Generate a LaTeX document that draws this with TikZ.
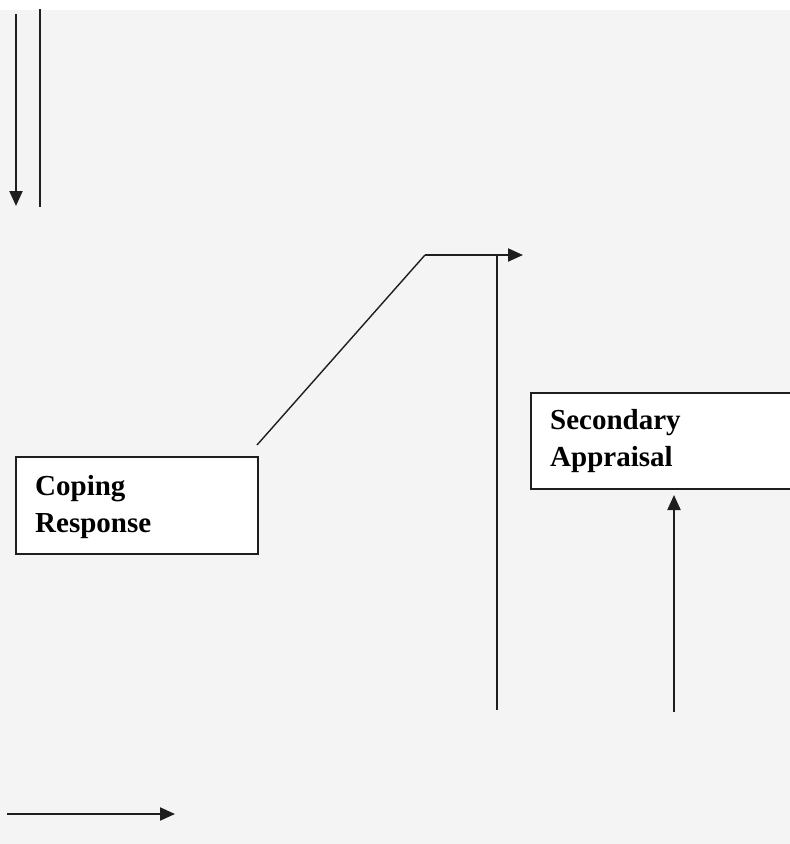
\documentclass[tikz,border=0pt]{standalone}
\usepackage{fontspec}
\setmainfont{Liberation Serif}
\usetikzlibrary{arrows.meta}
\definecolor{paper}{HTML}{F4F4F4}
\definecolor{ink}{HTML}{1E1E1E}
\begin{document}
\begin{tikzpicture}[x=1pt,y=-1pt,
  wire/.style={draw=ink,line width=2.1pt},
  thinwire/.style={draw=ink,line width=1.4pt},
  arr/.style={-{Triangle[length=15pt,width=13pt]}},
  box/.style={draw=ink,line width=1.8pt,fill=white,rectangle,inner sep=0pt,anchor=north west},
  lbl/.style={anchor=base west,align=left,inner sep=0pt,
    font=\fontsize{29}{37}\selectfont\bfseries}]
  % page and background
  \fill[white] (0,0) rectangle (790,844);
  \fill[paper] (0,10) rectangle (790,844);
  \useasboundingbox (0,0) rectangle (790,844);

  % boxes (the anchor of each label is the baseline of its last line)
  \node[box,minimum width=242pt,minimum height=97pt] (coping) at (15,456) {};
  \node[lbl] (copingtext) at (35,532) {Coping\\Response};
  \node[box,minimum width=262pt,minimum height=96pt] (secondary) at (530,392) {};
  \node[lbl] (secondarytext) at (550,466) {Secondary\\Appraisal};

  % free ends of the connectors
  \coordinate (d1s) at (16,14);
  \coordinate (d1e) at (16,206);
  \coordinate (v1s) at (40,9);
  \coordinate (v1e) at (40,207);
  \coordinate (diagstart) at (257,445);
  \coordinate (bend) at (425,255);
  \coordinate (toptip) at (523,255);
  \coordinate (midtop) at (497,255);
  \coordinate (midbot) at (497,710);
  \coordinate (upstart) at (674,712);
  \coordinate (uptip) at (674,495);
  \coordinate (bs) at (7,814);
  \coordinate (be) at (175,814);

  % connectors
  \draw[wire,arr] (d1s) -- (d1e);
  \draw[wire] (v1s) -- (v1e);
  \draw[thinwire] (diagstart) -- (bend);
  \draw[wire,arr] (bend) -- (toptip);
  \draw[wire] (midtop) -- (midbot);
  \draw[wire,arr] (upstart) -- (uptip);
  \draw[wire,arr] (bs) -- (be);
\end{tikzpicture}
\end{document}
